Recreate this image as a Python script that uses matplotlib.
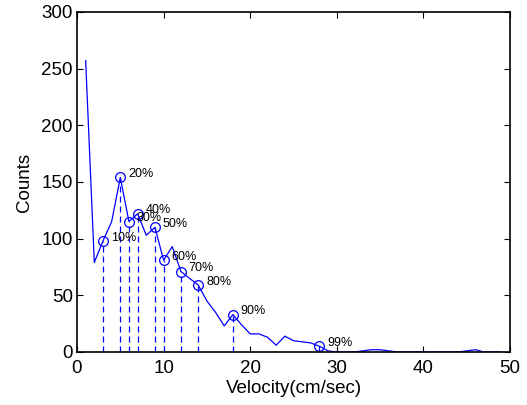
import numpy as np
import matplotlib
matplotlib.use("Agg")
from matplotlib import pyplot as plt

plt.rcParams['font.family'] = ['Liberation Sans', 'DejaVu Sans']

# velocity bins and counts
velocity = list(range(1, 50))
counts = [257, 79, 98, 115, 154, 115, 122, 103, 110, 81,
          93, 71, 65, 59, 45, 35, 23, 33, 24, 16,
          16, 13, 6, 14, 10, 9, 8, 5, 1, 0,
          0, 0, 1, 2, 2, 1, 0, 0, 0, 0,
          0, 0, 0, 0, 1, 2, 0, 0, 0]

# percentile markers
pct_velocity = [3, 5, 6, 7, 9, 10, 12, 14, 18, 28]
pct_counts = [98, 154, 115, 122, 110, 81, 71, 59, 33, 5]
pct_labels = ["10%", "20%", "30%", "40%", "50%", "60%", "70%", "80%", "90%", "99%"]

fig = plt.figure(figsize=(5.27, 4.05), dpi=100)
ax = fig.add_axes([77 / 527, 1 - 352 / 405, (510 - 77) / 527, (352 - 12) / 405])

ax.plot(velocity, counts, color='blue', linewidth=0.9)
ax.plot(pct_velocity, pct_counts, 'o', markerfacecolor='none',
        markeredgecolor='blue', markersize=7, markeredgewidth=0.9)
for v, c, lab in zip(pct_velocity, pct_counts, pct_labels):
    ax.plot([v, v], [0, c], linestyle=(0, (4.8, 3.2)), color='blue', linewidth=0.9)
    ax.text(v + 0.9, c + 3, lab, fontsize=9, va='center', ha='left')

ax.set_xlim(0, 50)
ax.set_ylim(0, 300)
ax.set_xticks([0, 10, 20, 30, 40, 50])
ax.set_yticks([0, 50, 100, 150, 200, 250, 300])
ax.tick_params(direction='in', top=True, right=True, labelsize=13.5, length=4)
ax.tick_params(axis='x', pad=6)
ax.tick_params(axis='y', pad=3)
for sp in ax.spines.values():
    sp.set_linewidth(1.2)
ax.set_xlabel("Velocity(cm/sec)", fontsize=13.5, labelpad=2)
ax.set_ylabel("Counts", fontsize=13.5, labelpad=6)

fig.savefig("out.png", dpi=100)
